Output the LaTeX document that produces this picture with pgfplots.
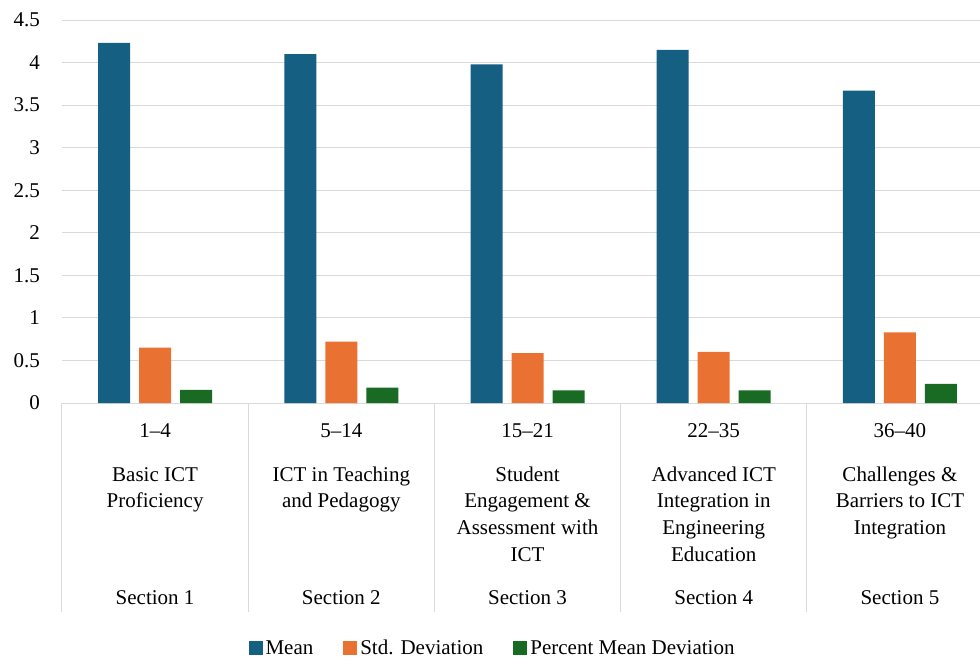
\documentclass[border=0pt]{standalone}
\usepackage{fontspec}
\setmainfont{Liberation Serif}
\usepackage{pgfplots}
\pgfplotsset{compat=1.18}
\definecolor{cblue}{HTML}{156082}
\definecolor{corange}{HTML}{E97132}
\definecolor{cgreen}{HTML}{196B24}
\definecolor{cgrid}{HTML}{D9D9D9}
\tikzset{lab/.style={anchor=base, inner sep=0pt}}
\begin{document}
\begin{tikzpicture}[font=\fontsize{21}{26.6}\selectfont]
\useasboundingbox (-62pt,-255.5pt) rectangle (918pt,403pt);
\begin{axis}[
  at={(0pt,0pt)}, anchor=south west,
  scale only axis,
  width=918pt, height=383pt,
  xmin=-0.5, xmax=4.43,
  ymin=0, ymax=4.5,
  ytick={0,0.5,...,4.5},
  xtick=\empty,
  separate axis lines,
  axis x line*=bottom,
  axis y line*=left,
  x axis line style={draw=cgrid, line width=1pt, -},
  y axis line style={draw=none},
  ytick style={draw=none},
  major tick length=0pt,
  ymajorgrids,
  grid style={cgrid, line width=1pt},
  /pgf/number format/assume math mode=true,
  yticklabel style={anchor=east, inner sep=0pt, xshift=-22pt},
  ybar=9pt, bar width=32pt,
  clip=false,
  legend style={draw=none, fill=none, at={(axis description cs:0.4695,-0.6397)}, anchor=center,
    legend columns=-1, inner sep=0pt,
    /tikz/every even column/.append style={column sep=27pt},
    nodes={inner ysep=2pt, inner xsep=3pt}},
  legend image code/.code={\fill[#1] (0pt,-7pt) rectangle (14pt,7pt);},
]
\addplot[fill=cblue, draw=none] coordinates {(0,4.23) (1,4.10) (2,3.98) (3,4.15) (4,3.67)};
\addplot[fill=corange, draw=none] coordinates {(0,0.65) (1,0.72) (2,0.585) (3,0.60) (4,0.83)};
\addplot[fill=cgreen, draw=none] coordinates {(0,0.155) (1,0.18) (2,0.147) (3,0.147) (4,0.225)};
\legend{Mean, Std. Deviation, Percent Mean Deviation}
% separators of the category axis
\draw[cgrid, line width=1pt] (axis cs:-0.5,0) -- ([yshift=-209pt]axis cs:-0.5,0);
\draw[cgrid, line width=1pt] (axis cs:0.5,0) -- ([yshift=-209pt]axis cs:0.5,0);
\draw[cgrid, line width=1pt] (axis cs:1.5,0) -- ([yshift=-209pt]axis cs:1.5,0);
\draw[cgrid, line width=1pt] (axis cs:2.5,0) -- ([yshift=-209pt]axis cs:2.5,0);
\draw[cgrid, line width=1pt] (axis cs:3.5,0) -- ([yshift=-209pt]axis cs:3.5,0);
% labels
\node[lab, yshift=-34.5pt] at (axis cs:0,0) {1–4};
\node[lab, yshift=-34.5pt] at (axis cs:1,0) {5–14};
\node[lab, yshift=-34.5pt] at (axis cs:2,0) {15–21};
\node[lab, yshift=-34.5pt] at (axis cs:3,0) {22–35};
\node[lab, yshift=-34.5pt] at (axis cs:4,0) {36–40};
\node[lab, yshift=-201.5pt] at (axis cs:0,0) {Section 1};
\node[lab, yshift=-201.5pt] at (axis cs:1,0) {Section 2};
\node[lab, yshift=-201.5pt] at (axis cs:2,0) {Section 3};
\node[lab, yshift=-201.5pt] at (axis cs:3,0) {Section 4};
\node[lab, yshift=-201.5pt] at (axis cs:4,0) {Section 5};
\node[lab, yshift=-78.2pt] at (axis cs:0,0) {Basic ICT};
\node[lab, yshift=-104.9pt] at (axis cs:0,0) {Proficiency};
\node[lab, yshift=-78.2pt] at (axis cs:1,0) {ICT in Teaching};
\node[lab, yshift=-104.9pt] at (axis cs:1,0) {and Pedagogy};
\node[lab, yshift=-78.2pt] at (axis cs:2,0) {Student};
\node[lab, yshift=-104.9pt] at (axis cs:2,0) {Engagement \&};
\node[lab, yshift=-131.6pt] at (axis cs:2,0) {Assessment with};
\node[lab, yshift=-158.3pt] at (axis cs:2,0) {ICT};
\node[lab, yshift=-78.2pt] at (axis cs:3,0) {Advanced ICT};
\node[lab, yshift=-104.9pt] at (axis cs:3,0) {Integration in};
\node[lab, yshift=-131.6pt] at (axis cs:3,0) {Engineering};
\node[lab, yshift=-158.3pt] at (axis cs:3,0) {Education};
\node[lab, yshift=-78.2pt] at (axis cs:4,0) {Challenges \&};
\node[lab, yshift=-104.9pt] at (axis cs:4,0) {Barriers to ICT};
\node[lab, yshift=-131.6pt] at (axis cs:4,0) {Integration};
\end{axis}
\end{tikzpicture}
\end{document}
